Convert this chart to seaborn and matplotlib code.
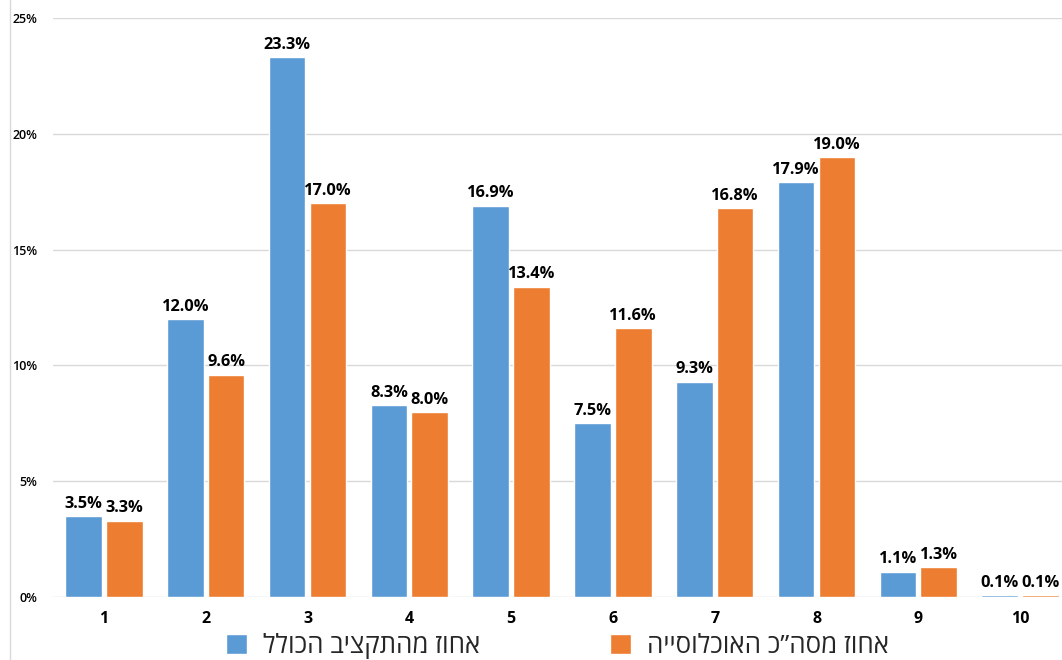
import matplotlib
matplotlib.use("Agg")
import matplotlib.pyplot as plt
from matplotlib.patches import Patch
from matplotlib.lines import Line2D
from matplotlib.ticker import FuncFormatter
import seaborn as sns
import pandas as pd

categories = ["1", "2", "3", "4", "5", "6", "7", "8", "9", "10"]
budget_share = [3.5, 12.0, 23.3, 8.3, 16.9, 7.5, 9.3, 17.9, 1.1, 0.1]
population_share = [3.3, 9.6, 17.0, 8.0, 13.4, 11.6, 16.8, 19.0, 1.3, 0.1]
series_names = ["אחוז מהתקציב הכולל", "אחוז מסה”כ האוכלוסייה"]
y_ticks = [0, 5, 10, 15, 20, 25]

BLUE = "#5B9BD5"
ORANGE = "#ED7D31"
GRID = "#D9D9D9"


def rtl(text):
    # matplotlib lays text out left-to-right; reverse Hebrew for visual order
    return text[::-1]


sns.set_theme(style="white")
plt.rcParams["font.family"] = ["Open Sans", "DejaVu Sans"]

df = pd.DataFrame({
    "category": categories * 2,
    "value": budget_share + population_share,
    "series": [series_names[0]] * len(categories) + [series_names[1]] * len(categories),
})

W, H = 1062, 660
fig = plt.figure(figsize=(W / 100, H / 100), dpi=100)
ax = fig.add_axes([53 / W, 63 / H, (1071 - 53) / W, (597 - 18) / H])

sns.barplot(
    data=df, x="category", y="value", hue="series",
    order=categories, hue_order=series_names,
    palette=[BLUE, ORANGE], width=0.8, gap=0.1,
    saturation=1, legend=False, ax=ax,
)

ax.set_ylim(0, 25)
ax.set_xlim(-0.5, len(categories) - 0.5)
ax.set_yticks(y_ticks)
ax.yaxis.set_major_formatter(FuncFormatter(lambda v, _: f"{v:.0f}%"))
ax.grid(axis="y", color=GRID, linewidth=1)
ax.set_axisbelow(True)
for s in ax.spines.values():
    s.set_visible(False)
ax.set_xlabel("")
ax.set_ylabel("")
ax.tick_params(axis="both", length=0)
ax.tick_params(axis="y", pad=11.5, labelsize=9)
ax.tick_params(axis="x", pad=10, labelsize=11.5)
for lbl in ax.get_yticklabels():
    lbl.set_fontweight("semibold")
    lbl.set_color("#000000")
for lbl in ax.get_xticklabels():
    lbl.set_fontweight("bold")
    lbl.set_color("#000000")

for cont in ax.containers:
    ax.bar_label(cont, fmt="%.1f%%", padding=3, fontsize=11.8,
                 fontweight="bold", color="#000000")

# thin left border of the chart area
fig.add_artist(Line2D([10 / W, 10 / W], [0, 1], transform=fig.transFigure,
                      color=GRID, linewidth=1))

handles = [Patch(facecolor=BLUE), Patch(facecolor=ORANGE)]
fig.legend(
    handles, [rtl(n) for n in series_names],
    loc="center", bbox_to_anchor=(557.5 / W, 1 - 646 / H),
    ncol=2, frameon=False, prop={"size": 18.6, "weight": "medium"},
    handlelength=0.82, handleheight=0.82, handletextpad=0.62,
    columnspacing=5.0,
)

fig.savefig("out.png", dpi=100)
